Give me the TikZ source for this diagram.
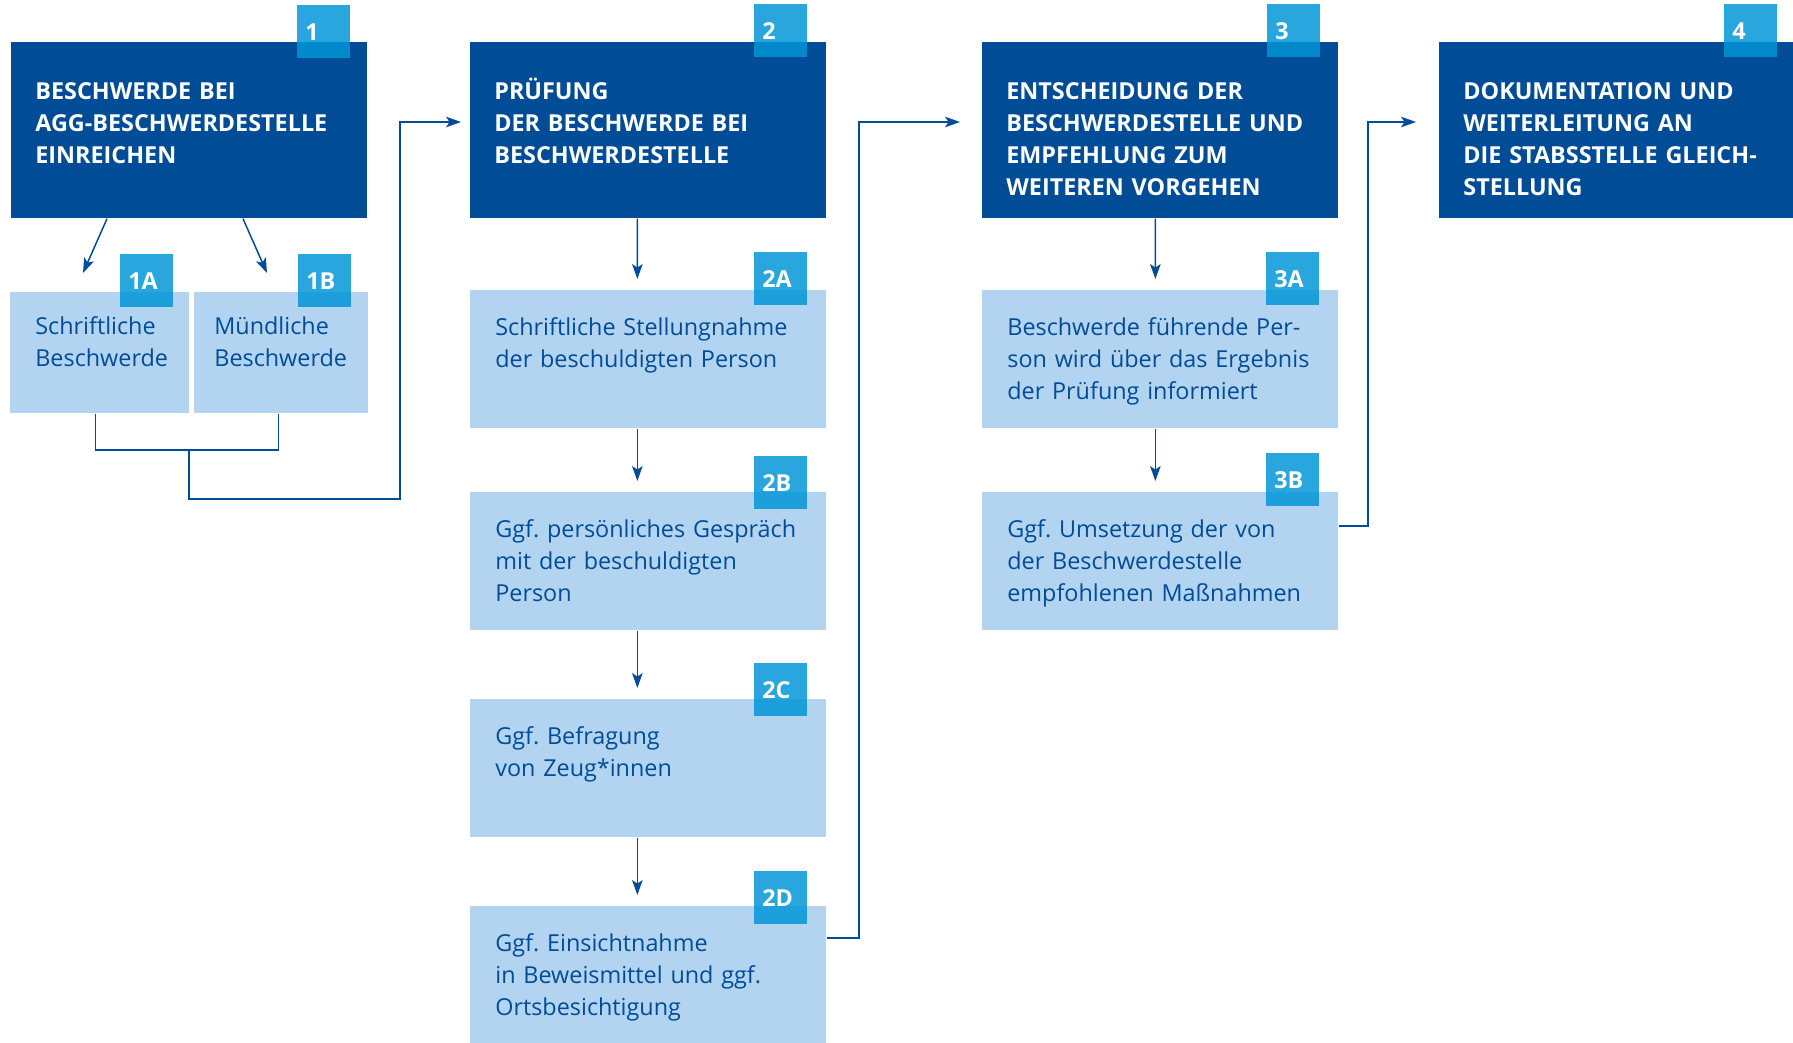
\documentclass[tikz,border=0pt]{standalone}
\usepackage{fontspec}
\setmainfont{Open Sans}
\usepackage{tikz}
\usetikzlibrary{arrows.meta}

\definecolor{navy}{RGB}{0,76,151}
\definecolor{pale}{RGB}{179,212,240}
\definecolor{sky}{RGB}{0,149,214}

\frenchspacing

\begin{document}
\begin{tikzpicture}[
  every node/.style={anchor=north west, align=left, inner ysep=0pt},
  head/.style={fill=navy, text=white, font=\bfseries\fontsize{13.3}{18.2}\selectfont,
    text width=6.16cm, inner xsep=0.48cm, text height=1.15cm, text depth=2.37cm},
  sub/.style={fill=pale, text=navy, font=\fontsize{13.3}{18.2}\selectfont,
    text width=6.12cm, inner xsep=0.5cm, text height=0.9cm, text depth=1.86cm},
  subsmall/.style={sub, text height=0.84cm, text depth=1.58cm},
  badge/.style={anchor=north east, fill=sky, fill opacity=0.84, text opacity=1,
    text=white, font=\bfseries\fontsize{13.3}{18.2}\selectfont,
    text width=0.74cm, inner xsep=0.16cm, minimum height=1.06cm},
  link/.style={draw=navy, line width=0.85pt},
  flow/.style={link, -{Stealth[length=8.5pt, width=6pt, inset=2pt]}}
]

\useasboundingbox (0,0) rectangle (35.86,-20.84);

% main steps
\node[head] (einreichen) at (0.22,-0.84) {BESCHWERDE BEI\\AGG-BESCHWERDESTELLE\\EINREICHEN};
\node[head] (pruefung) at (9.40,-0.84) {PRÜFUNG\\DER BESCHWERDE BEI\\BESCHWERDESTELLE};
\node[head] (entscheidung) at (19.64,-0.84) {ENTSCHEIDUNG DER\\BESCHWERDESTELLE UND\\EMPFEHLUNG ZUM\\WEITEREN VORGEHEN};
\node[head] (dokumentation) at (28.78,-0.84) {DOKUMENTATION UND\\WEITERLEITUNG AN\\DIE STABSSTELLE GLEICH-\\STELLUNG};

% sub steps
\node[subsmall, text width=2.58cm, inner xsep=0.5cm] (schriftlich) at (0.20,-5.84) {Schriftliche\\Beschwerde};
\node[subsmall, text width=2.68cm, inner xsep=0.4cm] (muendlich) at (3.88,-5.84) {Mündliche\\Beschwerde};

\node[sub] (stellungnahme) at (9.40,-5.80) {Schriftliche Stellungnahme\\der beschuldigten Person};
\node[sub] (gespraech) at (9.40,-9.84) {Ggf. persönliches Gespräch\\mit der beschuldigten\\Person};
\node[sub] (befragung) at (9.40,-13.98) {Ggf. Befragung\\von Zeug*innen};
\node[sub] (einsicht) at (9.40,-18.12) {Ggf. Einsichtnahme\\in Beweismittel und ggf.\\Ortsbesichtigung};

\node[sub] (information) at (19.64,-5.80) {Beschwerde führende Per-\\son wird über das Ergebnis\\der Prüfung informiert};
\node[sub] (umsetzung) at (19.64,-9.84) {Ggf. Umsetzung der von\\der Beschwerdestelle\\empfohlenen Maßnahmen};

% numbers
\node[badge] (nr1) at ([xshift=-0.34cm,yshift=0.74cm]einreichen.north east) {1};
\node[badge] (nr2) at ([xshift=-0.38cm,yshift=0.76cm]pruefung.north east) {2};
\node[badge] (nr3) at ([xshift=-0.36cm,yshift=0.76cm]entscheidung.north east) {3};
\node[badge] (nr4) at ([xshift=-0.36cm,yshift=0.76cm]dokumentation.north east) {4};
\node[badge] (nr1a) at ([xshift=-0.32cm,yshift=0.76cm]schriftlich.north east) {1A};
\node[badge] (nr1b) at ([xshift=-0.34cm,yshift=0.76cm]muendlich.north east) {1B};
\node[badge] (nr2a) at ([xshift=-0.38cm,yshift=0.76cm]stellungnahme.north east) {2A};
\node[badge] (nr2b) at ([xshift=-0.38cm,yshift=0.72cm]gespraech.north east) {2B};
\node[badge] (nr2c) at ([xshift=-0.38cm,yshift=0.72cm]befragung.north east) {2C};
\node[badge] (nr2d) at ([xshift=-0.38cm,yshift=0.70cm]einsicht.north east) {2D};
\node[badge] (nr3a) at ([xshift=-0.38cm,yshift=0.76cm]information.north east) {3A};
\node[badge] (nr3b) at ([xshift=-0.38cm,yshift=0.78cm]umsetzung.north east) {3B};

% corners of the long connectors
\coordinate (join1) at (3.78,-9.00);
\coordinate (up1) at (8.00,-2.44);
\coordinate (up2) at (17.18,-2.44);
\coordinate (up3) at (27.36,-2.44);

\draw[flow] ([xshift=1.92cm]einreichen.south west) -- ([xshift=1.46cm,yshift=0.38cm]schriftlich.north west);
\draw[flow] ([xshift=4.64cm]einreichen.south west) -- ([xshift=1.46cm,yshift=0.38cm]muendlich.north west);
\draw[link] ([xshift=-0.09cm]schriftlich.south) |- (join1) -| ([xshift=-0.06cm]muendlich.south);
\draw[flow] (join1) -- ++(0,-0.98) -| (up1) -- ([xshift=-0.18cm]pruefung.west |- up1);

\draw[flow] ([xshift=-0.22cm]pruefung.south) -- ([xshift=-0.22cm,yshift=0.22cm]stellungnahme.north);
\draw[flow] ([xshift=-0.22cm]stellungnahme.south) -- ([xshift=-0.22cm,yshift=0.22cm]gespraech.north);
\draw[flow] ([xshift=-0.22cm]gespraech.south) -- ([xshift=-0.22cm,yshift=0.22cm]befragung.north);
\draw[flow] ([xshift=-0.22cm]befragung.south) -- ([xshift=-0.22cm,yshift=0.22cm]einsicht.north);
\draw[flow] ([yshift=-0.64cm]einsicht.north east) -| (up2) -- ([xshift=-0.44cm]entscheidung.west |- up2);

\draw[flow] ([xshift=-0.1cm]entscheidung.south) -- ([xshift=-0.1cm,yshift=0.22cm]information.north);
\draw[flow] ([xshift=-0.1cm]information.south) -- ([xshift=-0.1cm,yshift=0.22cm]umsetzung.north);
\draw[flow] ([yshift=-0.68cm]umsetzung.north east) -| (up3) -- ([xshift=-0.46cm]dokumentation.west |- up3);

\end{tikzpicture}
\end{document}
